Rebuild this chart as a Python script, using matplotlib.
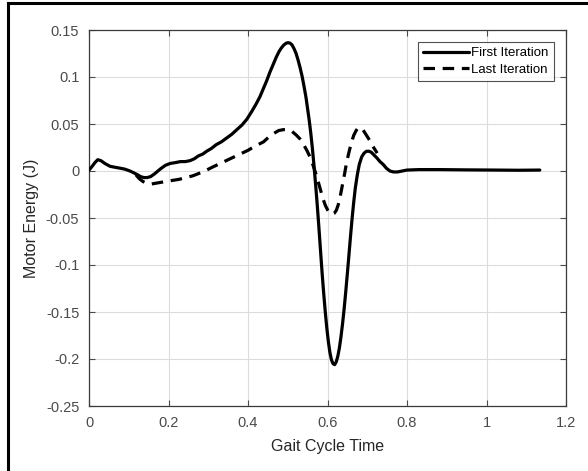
import matplotlib
matplotlib.use("Agg")
import matplotlib.pyplot as plt
from matplotlib.lines import Line2D

# ---- data ----
first_t = [0.000, 0.008, 0.015, 0.022, 0.030, 0.040, 0.053, 0.065, 0.078, 0.090,
           0.103, 0.113, 0.122, 0.130, 0.138, 0.146, 0.155, 0.165, 0.179, 0.192,
           0.204, 0.218, 0.230, 0.242, 0.254, 0.265, 0.275, 0.286, 0.296, 0.308,
           0.320, 0.333, 0.346, 0.359, 0.372, 0.385, 0.397, 0.409, 0.420, 0.430,
           0.439, 0.447, 0.455, 0.463, 0.471, 0.478, 0.484, 0.490, 0.496, 0.501,
           0.506, 0.511, 0.516, 0.521, 0.526, 0.531, 0.536, 0.541, 0.546, 0.550,
           0.554, 0.558, 0.562, 0.566, 0.570, 0.574, 0.578, 0.582, 0.586, 0.590,
           0.594, 0.598, 0.602, 0.606, 0.610, 0.614, 0.618, 0.622, 0.626, 0.630,
           0.634, 0.638, 0.642, 0.646, 0.650, 0.654, 0.658, 0.662, 0.666, 0.670,
           0.675, 0.680, 0.686, 0.692, 0.698, 0.704, 0.710, 0.717, 0.724, 0.732,
           0.740, 0.748, 0.757, 0.766, 0.776, 0.788, 0.800, 0.830, 0.880, 0.950,
           1.020, 1.080, 1.134]
first_e = [0.001, 0.005, 0.009, 0.012, 0.011, 0.008, 0.005, 0.004, 0.003, 0.002,
           0.000, -0.002, -0.004, -0.006, -0.007, -0.007, -0.006, -0.003, 0.002, 0.006,
           0.008, 0.009, 0.010, 0.010, 0.011, 0.013, 0.016, 0.018, 0.021, 0.024,
           0.028, 0.031, 0.035, 0.039, 0.044, 0.049, 0.055, 0.063, 0.071, 0.079,
           0.088, 0.096, 0.105, 0.113, 0.121, 0.127, 0.131, 0.134, 0.136, 0.1365,
           0.136, 0.134, 0.130, 0.125, 0.118, 0.110, 0.101, 0.090, 0.078, 0.066,
           0.054, 0.040, 0.024, 0.006, -0.014, -0.035, -0.058, -0.082, -0.106, -0.128,
           -0.148, -0.166, -0.181, -0.193, -0.201, -0.205, -0.206, -0.203, -0.197, -0.188,
           -0.176, -0.162, -0.146, -0.128, -0.109, -0.089, -0.069, -0.050, -0.033, -0.018,
           -0.004, 0.007, 0.015, 0.019, 0.021, 0.021, 0.020, 0.017, 0.014, 0.010,
           0.007, 0.003, 0.000, -0.001, -0.001, 0.000, 0.001, 0.0015, 0.0015, 0.0012,
           0.001, 0.0008, 0.001]

last_t = [0.118, 0.126, 0.135, 0.145, 0.155, 0.168, 0.182, 0.195, 0.210, 0.225,
          0.245, 0.262, 0.280, 0.296, 0.310, 0.325, 0.340, 0.355, 0.370, 0.385,
          0.400, 0.412, 0.425, 0.439, 0.452, 0.465, 0.477, 0.489, 0.500, 0.511,
          0.522, 0.531, 0.540, 0.548, 0.556, 0.563, 0.570, 0.577, 0.583, 0.589,
          0.595, 0.601, 0.606, 0.612, 0.617, 0.622, 0.627, 0.632, 0.637, 0.643,
          0.648, 0.654, 0.660, 0.666, 0.672, 0.677, 0.683, 0.689, 0.695, 0.701,
          0.707, 0.713, 0.719, 0.725]
last_e = [-0.004, -0.008, -0.011, -0.013, -0.014, -0.013, -0.012, -0.011, -0.010, -0.009,
          -0.007, -0.005, -0.002, 0.001, 0.004, 0.007, 0.010, 0.013, 0.016, 0.019,
          0.022, 0.025, 0.028, 0.031, 0.036, 0.040, 0.043, 0.044, 0.044, 0.042,
          0.038, 0.034, 0.028, 0.022, 0.015, 0.007, -0.002, -0.012, -0.021, -0.030,
          -0.037, -0.042, -0.045, -0.046, -0.045, -0.042, -0.036, -0.027, -0.016, -0.003,
          0.009, 0.020, 0.030, 0.038, 0.043, 0.046, 0.046, 0.044, 0.040, 0.036,
          0.032, 0.027, 0.023, 0.019]

xticks = [0, 0.2, 0.4, 0.6, 0.8, 1.0, 1.2]
xtick_labels = ["0", "0.2", "0.4", "0.6", "0.8", "1", "1.2"]
yticks = [-0.25, -0.2, -0.15, -0.1, -0.05, 0, 0.05, 0.1, 0.15]
ytick_labels = ["-0.25", "-0.2", "-0.15", "-0.1", "-0.05", "0", "0.05", "0.1", "0.15"]

plt.rcParams['font.family'] = ['Liberation Sans', 'DejaVu Sans']

fig = plt.figure(figsize=(5.88, 4.71), dpi=100)
W, H = 588, 471
ax = fig.add_axes([89 / W, 1 - 406 / H, (566 - 89) / W, (406 - 30) / H])

ax.plot(first_t, first_e, color='black', lw=2.3, solid_joinstyle='round',
        solid_capstyle='round', label='First Iteration', zorder=3)
ax.plot(last_t, last_e, color='black', lw=2.3, ls=(0, (3.6, 2.4)),
        label='Last Iteration', zorder=3)

ax.set_xlim(0, 1.2)
ax.set_ylim(-0.25, 0.15)
ax.set_xticks(xticks)
ax.set_xticklabels(xtick_labels)
ax.set_yticks(yticks)
ax.set_yticklabels(ytick_labels)
ax.grid(True, color='#dcdcdc', lw=0.8)
ax.set_axisbelow(True)
ax.tick_params(direction='in', top=True, right=True, length=4, width=0.8,
               colors='#4a4a4a', labelsize=10.5, labelcolor='#4a4a4a', pad=7)
for s in ax.spines.values():
    s.set_color('#3a3a3a')
    s.set_linewidth(0.9)

ax.set_xlabel('Gait Cycle Time', fontsize=11.5, color='#262626', labelpad=7)
ax.set_ylabel('Motor Energy (J)', fontsize=11.5, color='#262626', labelpad=5)

leg = ax.legend(loc='upper right', fontsize=9.5, frameon=True, fancybox=False,
                edgecolor='#262626', handlelength=3.5, handletextpad=0.15,
                borderpad=0.4, labelspacing=0.3, borderaxespad=0.9)
leg.get_frame().set_linewidth(0.8)

# outer black frame (left and top edges visible in the reference)
fig.add_artist(Line2D([7.5 / W, 7.5 / W], [0, 1 - 3 / H], transform=fig.transFigure,
                      color='black', lw=2.2))
fig.add_artist(Line2D([7.5 / W, 1], [1 - 3 / H, 1 - 3 / H], transform=fig.transFigure,
                      color='black', lw=2.2))

fig.savefig('out.png', dpi=100)
